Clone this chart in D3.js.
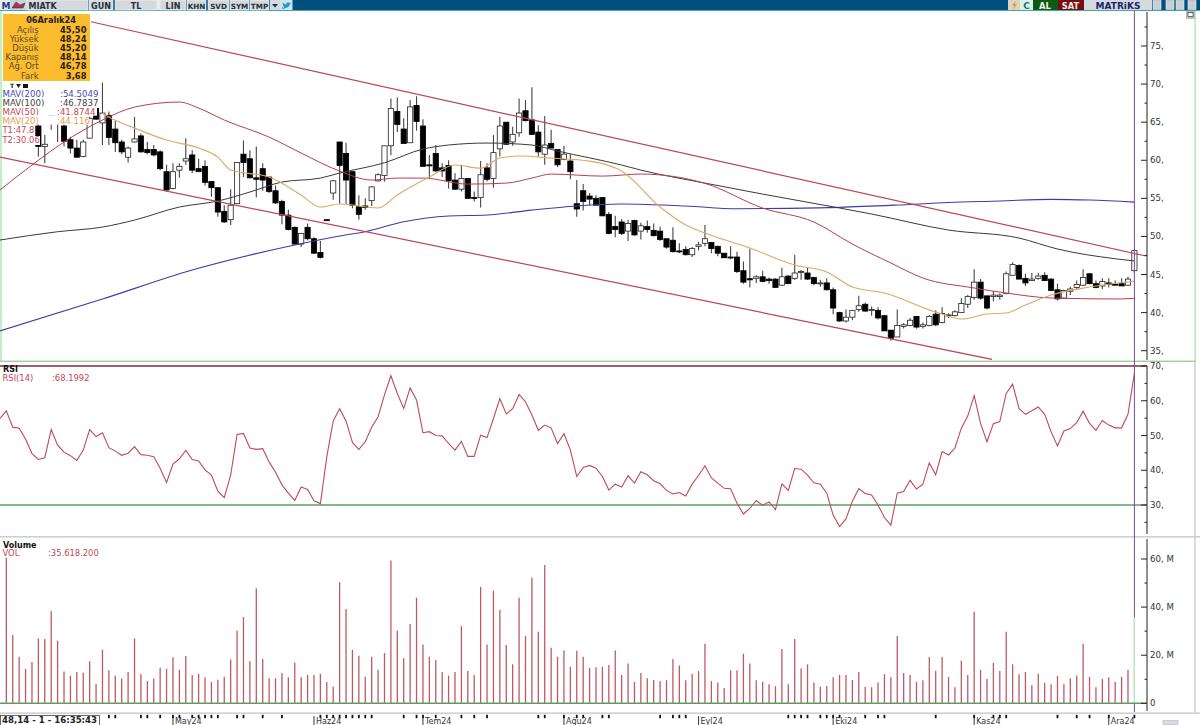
<!DOCTYPE html>
<html><head><meta charset="utf-8">
<style>html,body{margin:0;padding:0;background:#fff;overflow:hidden}svg{display:block}text{font-family:"DejaVu Sans",sans-serif}</style>
<script src="https://cdn.jsdelivr.net/npm/d3@7/dist/d3.min.js"></script>
</head><body><svg id="c" width="1200" height="725"></svg>
<script>
// ---------- candles, bar index 0..176 (first five are hidden behind the info box)
const highs=[null,null,null,null,null,65.3,63.3,66.1,65.9,64.8,
63.1,62.7,62.7,65.7,67.9,70.2,66.4,65.2,62.7,61.8,
65.7,63.5,62.4,62.0,61.3,59.4,59.6,59.6,62.9,61.3,
60.2,60.0,57.2,56.5,54.1,56.2,59.7,62.6,61.3,61.8,
59.6,57.8,56.7,54.8,53.5,51.3,50.5,51.7,49.9,49.4,
52.2,57.4,62.4,62.3,58.5,55.4,55.0,56.6,58.3,61.9,
68.1,68.25,65.5,67.9,68.4,65.4,60.7,62.0,59.6,60.0,
58.3,59.4,57.6,55.9,59.9,59.6,63.3,65.7,65.0,64.4,
68.1,67.9,69.6,64.6,65.8,64.0,61.4,61.9,60.8,57.4,
56.9,55.7,55.4,55.1,53.2,52.7,52.3,52.2,52.2,51.8,
52.1,51.7,51.3,49.7,51.2,49.1,48.7,48.6,49.3,51.5,
49.2,48.8,47.8,48.7,48.0,46.7,48.4,44.9,45.5,44.6,
44.5,45.9,44.9,47.6,45.6,45.9,44.7,44.3,44.5,43.3,
40.1,40.4,40.3,42.2,41.3,40.8,40.7,39.6,37.7,40.4,
38.6,39.3,39.5,38.7,39.7,40.3,40.7,39.9,40.3,41.9,
42.3,45.7,44.4,42.2,42.8,42.5,45.4,46.6,46.3,45.1,
45.2,45.2,45.3,44.5,43.8,43.0,43.4,44.2,45.7,45.2,
44.2,44.5,44.5,44.2,44.5,44.7,48.24];
const lows=[null,null,null,null,null,60.5,59.6,64.0,62.4,61.8,
60.9,60.4,60.4,62.9,65.3,62.0,62.0,61.1,60.8,59.7,
62.3,61.0,60.8,60.5,58.7,55.9,56.2,57.7,59.4,58.3,
58.5,56.7,55.2,52.6,51.8,51.5,54.3,57.8,57.6,55.1,
56.0,55.7,54.3,51.6,50.8,48.9,48.6,49.5,47.7,47.1,
52.1,54.8,54.3,54.3,53.7,52.2,53.5,54.0,57.2,57.2,
60.7,63.7,62.2,62.3,63.9,59.2,57.6,58.5,57.8,56.3,
56.1,55.9,55.0,54.6,53.8,57.2,56.4,60.5,62.0,61.9,
63.1,65.1,63.3,60.5,59.4,61.6,59.1,60.0,57.5,52.6,
53.4,54.1,54.1,52.7,50.3,49.9,50.2,49.4,50.1,49.6,
50.5,50.0,49.4,48.4,47.9,47.8,47.5,47.3,48.2,48.7,
47.8,47.4,47.2,47.0,45.2,43.8,43.3,43.9,44.0,43.8,
43.3,43.5,43.8,44.3,44.3,44.3,43.6,43.4,42.9,39.8,
38.8,38.7,39.0,40.1,40.1,39.6,39.1,37.6,36.3,36.8,
37.9,38.2,37.9,37.9,38.2,38.2,38.6,39.3,39.5,40.0,
40.6,41.7,41.7,40.4,41.5,41.7,42.4,44.9,44.4,43.5,
44.2,44.3,44.2,42.8,41.6,41.8,42.3,43.0,43.5,43.7,
43.2,43.1,43.3,43.5,43.5,43.5,45.2];
const opens=[null,null,null,null,null,64.5,61.8,65.9,64.8,64.5,
62.7,61.6,60.5,62.9,66.8,64.9,65.9,64.1,62.4,60.4,
62.4,63.2,61.4,61.4,61.1,58.5,56.3,58.7,59.9,60.7,
58.9,59.2,57.2,56.4,53.3,52.2,54.3,60.8,60.2,57.7,
58.9,57.8,56.0,54.6,52.8,51.2,49.0,51.2,49.7,47.9,
52.2,55.7,62.4,60.9,58.5,53.9,54.0,54.7,57.3,58.0,
61.9,66.4,64.1,62.3,67.2,64.5,59.4,60.9,59.0,59.3,
57.4,56.2,57.6,55.1,55.1,59.0,57.6,61.5,65.0,62.4,
63.6,66.5,65.3,63.7,60.8,62.2,61.4,60.1,59.9,54.3,
56.0,55.3,55.0,55.1,52.9,51.3,51.9,50.7,52.1,50.7,
51.3,50.8,50.7,49.7,49.5,48.1,48.3,47.6,48.7,49.1,
49.2,48.7,47.8,47.3,47.3,45.5,44.45,44.5,44.7,44.4,
44.4,43.6,44.8,44.5,45.3,45.2,44.6,43.8,43.9,43.0,
40.0,38.9,39.4,40.4,41.1,40.3,40.3,39.6,37.7,36.8,
38.2,38.3,39.5,38.2,38.3,39.8,38.7,39.6,39.6,40.0,
41.1,42.0,44.0,42.2,42.1,42.1,42.5,44.9,46.2,44.5,
44.2,44.5,44.9,44.4,43.0,41.9,42.8,43.3,43.6,45.1,
43.8,43.5,43.9,43.75,43.8,43.6,45.5];
const closes=[null,null,null,null,null,61.8,62.1,64.8,65.6,62.5,
61.6,60.4,62.4,65.5,65.4,66.2,63.0,62.3,61.1,61.6,
62.8,61.1,61.0,60.7,58.9,56.1,58.5,59.2,60.2,58.7,
58.5,57.1,56.4,53.2,51.9,54.1,59.7,59.7,57.7,57.5,
57.4,55.9,54.4,52.8,50.9,49.0,50.4,49.7,47.8,47.25,
52.1,57.3,59.3,57.4,54.1,52.9,53.8,56.5,58.1,61.9,
66.8,64.7,62.2,67.0,65.1,59.2,59.3,58.6,58.6,57.3,
56.2,57.6,55.0,55.0,58.1,57.5,61.0,64.5,62.1,63.4,
66.2,65.2,63.4,61.1,62.0,61.6,59.4,60.8,58.5,53.6,
54.6,54.9,54.1,52.7,50.4,50.9,50.4,51.7,50.2,51.4,
50.9,50.1,49.6,48.6,48.0,48.0,47.6,48.4,48.9,49.7,
48.4,47.8,47.2,47.2,45.4,44.0,44.3,44.7,44.1,44.2,
43.3,44.7,43.8,45.2,45.4,44.4,43.8,43.9,43.0,40.6,
38.9,39.4,40.3,40.9,40.2,40.4,39.3,37.6,36.6,38.3,
38.4,39.0,38.1,38.4,39.5,38.4,39.9,39.7,40.1,41.2,
42.1,44.0,41.9,40.6,42.3,42.3,45.1,46.3,44.4,43.9,
44.4,44.8,44.2,42.9,41.8,42.9,43.1,43.7,44.6,43.8,
43.3,44.1,43.7,43.6,43.5,44.4,48.14];
// ---------- moving averages and channels, read at knots [bar index], [price]
const ma200Idx=[-1,15,29,45,52,56,62,69,75,82,89,96,106,114,122,130,139,147,155,163,169,176];
const ma200Val=[37.59,41.78,45.59,48.87,50.05,50.62,51.93,52.68,52.81,53.46,53.99,54.25,53.99,53.63,53.69,53.82,54.12,54.45,54.65,54.87,54.78,54.51];
const ma100Idx=[-1,8,15,20,27,33,38,43,49,52,59,65,69,75,82,86,96,99,109,118,130,135,147,158,164,173,176];
const ma100Val=[49.53,50.62,51.23,52.15,53.86,54.65,55.83,57.14,57.66,58.32,59.67,61.47,62.0,62.26,62.0,61.21,59.37,58.71,57.0,55.56,53.73,52.94,50.84,49.79,48.35,47.07,46.78];
const ma50Idx=[-1,4,9,15,20,27,30,34,41,46,52,57,61,65,72,78,82,85,93,99,109,118,126,132,138,143,151,156,163,173,176];
const ma50Val=[56.09,59.37,62.39,65.28,66.98,67.64,66.85,65.28,63.04,60.95,58.58,57.4,57.66,57.66,56.87,57.0,57.66,58.19,57.92,58.19,56.97,53.73,51.89,49.0,46.51,44.54,43.23,42.57,41.92,41.79,41.87];
const ma20Idx=[15,16,20,25,30,33,35,41,46,49,52,58,61,66,70,74,77,80,85,91,96,102,106,109,116,123,128,132,137,145,149,153,156,159,163,169,176];
const ma20Val=[66.19,65.67,64.22,62.65,61.6,60.42,58.71,57.79,55.43,53.86,54.25,53.73,55.43,57.79,59.37,58.97,60.29,60.55,60.29,59.89,58.58,53.86,51.5,50.45,48.48,46.25,45.33,43.36,42.57,40.08,39.16,39.82,39.95,41.0,42.31,43.36,44.12];
const upperIdx=[13.2,177.8], upperVal=[78.18,47.43];
const lowerIdx=[-1,153.8], lowerVal=[60.42,33.85];
// ---------- RSI(14), bar index -1..176
const rsi=[54.9,57.1,52.4,52.1,49.0,44.8,43.1,43.6,51.7,47.2,45.2,44.2,42.8,45.8,51.7,49.7,50.8,46.5,45.5,44.3,44.9,46.8,44.5,44.3,43.9,40.6,36.5,41.8,43.3,45.7,43.1,42.7,40.1,38.6,34.0,32.1,38.6,50.3,50.6,46.4,46.0,46.2,42.4,39.4,35.8,33.4,31.3,35.2,34.5,31.2,30.4,43.9,54.2,57.7,54.2,48.0,46.0,48.2,52.4,55.4,61.7,67.2,62.1,
57.8,63.7,60.2,50.8,51.1,50.0,49.9,47.7,45.8,48.3,44.0,44.0,50.1,49.4,54.9,60.6,56.2,57.7,61.8,59.7,55.9,51.5,53.0,52.2,47.7,50.5,45.8,38.2,40.8,41.4,40.6,38.2,34.3,36.0,35.2,38.4,36.3,39.6,38.7,37.0,36.1,34.2,33.2,33.6,32.6,36.0,38.5,41.3,37.8,36.3,34.8,34.7,30.5,27.4,29.0,31.3,29.9,30.9,28.7,36.1,34.2,40.5,
40.3,38.6,36.4,36.0,33.4,27.1,23.8,26.0,31.1,34.7,33.3,32.9,30.0,26.4,24.2,33.4,33.9,37.1,34.6,36.0,42.1,38.7,45.4,44.4,46.4,52.1,55.6,61.5,53.5,48.2,53.4,54.0,62.1,64.8,57.8,56.1,57.1,58.2,56.1,51.1,47.0,51.3,52.0,53.7,57.0,53.5,51.5,54.3,53.0,52.2,52.2,56.1,67.9];
// ---------- volume in millions, bar index 0..176
const volume=[60.5,28.4,19.4,14.3,17.2,27,26.7,38.4,26,13.2,11.5,13,12.7,17.5,8,22.3,13.7,11.5,10.3,13,27,12.2,9.3,10.3,14.8,14.3,19.1,14,19.7,11.8,12.3,10.8,8.9,9.8,11,18.2,30.2,35.9,17.5,47.8,18.4,10.4,10.4,12.6,10.8,16.9,10.8,11.8,11.8,12.3,8.9,6.9,50.3,39.2,22.3,19.8,11,19.4,14,20.9,59.4,30.2,
18.7,33,43.9,24.5,19.4,18,13,11.5,13,32.1,13.4,11.8,48.4,24.5,46.8,38.8,24.2,16.2,43.9,28,52.2,29.7,57.5,23.1,19.4,22,15.2,21.8,19.4,14.7,15,15.2,15.9,22,11.8,16.5,8.9,12.6,10.4,9.7,9.3,9.6,18.4,15.7,9.6,12.2,13.4,24.8,9.3,8.6,6.4,13.7,13.7,20.6,16.5,9.6,8.9,7.9,7.1,22.6,7.9,26.7,
14.6,16.2,8.6,6.9,7.2,10.8,11.8,11.8,9.7,13,6.9,6.7,8.6,12.1,10.8,28,12.6,11.8,8.9,9.6,19.3,13.4,19.3,11,6.7,17.7,11.8,38.1,13.9,10.1,16.8,13.4,29.7,16.2,12.1,13,7.6,12.3,8.5,7.9,11.4,7.9,10.4,11.6,24.8,11,6.7,10.1,10.8,8.9,11,14,35.7];
// ---------- axes and time row
const priceTicks=[75,70,65,60,55,50,45,40,35];
const priceMinor=[77.5,72.5,67.5,62.5,57.5,52.5,47.5,42.5,37.5];
const rsiTicks=[70,60,50,40,30];
const rsiMinor=[65,55,45,35,25];
const volTicks=[60,40,20,0];
const volMinor=[50,30,10];
const dateTicks=[16,17,21,22,24,26,27,29,30,31,32,33,36,37,40,43,49,50,51,52,53,54,55,56,57,62,64,65,67,71,73,75,83,84,87,89,90,93,94,102,104,105,106,122,123,124,125,127,128,129,130,134,136,137,145,151,154,155,156,164,167,169,172,176];
const monthIdx=[26,48,65,87,108,129,151,172];
const monthNames=["May24","Haz24","Tem24","Ağu24","Eyl24","Eki24","Kas24","Ara24"];
// ---------- text panels
const infoDate="06Aralık24";
const infoLabels=["Açılış","Yüksek","Düşük","Kapanış","Ağ. Ort","Fark"];
const infoValues=["45,50","48,24","45,20","48,14","46,78","3,68"];
const legendNames=["MAV(200)","MAV(100)","MAV(50)","MAV(20)"];
const legendValues=[":54.5049",":46.7837",":41.8744",":44.116"];
const toolNames=["MIATK","GUN","TL","LIN","KHN","SVD","SYM","TMP"];

const svg=d3.select("#c");
const x=d3.scaleLinear().domain([0,176]).range([6.33,1134.4]);
const yP=d3.scaleLinear().domain([35,75]).range([350.7,46]);
const yR=d3.scaleLinear().domain([30,70]).range([505,366]);
const yV=d3.scaleLinear().domain([0,60]).range([703.3,559]);
const AX=1147;
const colRed="#b9475a",colMA50="#b5404f",colMA100="#3a3a3a",colMA200="#3d3da8",colMA20="#dda76a",colGreen="#5c9e66",purple="#7a4a94";

svg.append("defs").append("clipPath").attr("id","pc").append("rect").attr("x",0).attr("y",11).attr("width",1147).attr("height",349);
// frames
svg.append("rect").attr("x",0).attr("y",11).attr("width",2).attr("height",350).attr("fill","#c4efc6");
svg.append("rect").attr("x",1194.5).attr("y",11).attr("width",1.2).attr("height",350).attr("fill","#a6dfa8");
svg.append("rect").attr("x",1194.2).attr("y",361).attr("width",1.5).attr("height",352).attr("fill","#cfcfcf");
svg.append("rect").attr("x",0).attr("y",360.6).attr("width",1196).attr("height",1.4).attr("fill","#9ad09c");
svg.append("rect").attr("x",0).attr("y",536).attr("width",1200).attr("height",1.6).attr("fill","#cfcfcf");
svg.append("rect").attr("x",0).attr("y",712.4).attr("width",1200).attr("height",1.6).attr("fill","#cfcfcf");

// price panel
const gP=svg.append("g").attr("clip-path","url(#pc)");
const knots=(xs,ys)=>xs.map((d,i)=>[x(d),yP(ys[i])]);
const smooth=d3.line().curve(d3.curveMonotoneX);
const straight=d3.line();
const indices=d3.range(5,177);
const candle=gP.selectAll("g.cd").data(indices).join("g").attr("class","cd");
candle.append("line").attr("x1",i=>x(i)).attr("x2",i=>x(i)).attr("y1",i=>yP(highs[i])).attr("y2",i=>yP(lows[i])).attr("stroke","#444").attr("stroke-width",1.1);
candle.append("rect").attr("x",i=>x(i)-2.6).attr("width",5.2)
 .attr("y",i=>yP(Math.max(opens[i],closes[i])))
 .attr("height",i=>Math.max(1,Math.abs(yP(opens[i])-yP(closes[i]))))
 .attr("fill",i=>closes[i]>=opens[i]?"#fff":"#000").attr("stroke",i=>closes[i]>=opens[i]?"#222":"#000").attr("stroke-width",.8);
gP.append("path").attr("d",smooth(knots(ma200Idx,ma200Val))).attr("fill","none").attr("stroke",colMA200).attr("stroke-width",1.1);
gP.append("path").attr("d",smooth(knots(ma100Idx,ma100Val))).attr("fill","none").attr("stroke",colMA100).attr("stroke-width",1);
gP.append("path").attr("d",smooth(knots(ma50Idx,ma50Val))).attr("fill","none").attr("stroke",colMA50).attr("stroke-width",1);
gP.append("path").attr("d",smooth(knots(ma20Idx,ma20Val))).attr("fill","none").attr("stroke",colMA20).attr("stroke-width",1.1);
gP.append("path").attr("d",straight(knots(upperIdx,upperVal))).attr("fill","none").attr("stroke",colRed).attr("stroke-width",1.2);
gP.append("path").attr("d",straight(knots(lowerIdx,lowerVal))).attr("fill","none").attr("stroke",colRed).attr("stroke-width",1.2);

// RSI panel
svg.append("line").attr("x1",0).attr("x2",AX).attr("y1",yR(70)).attr("y2",yR(70)).attr("stroke","#7b2d35").attr("stroke-width",1.3);
svg.append("line").attr("x1",0).attr("x2",AX).attr("y1",yR(30)).attr("y2",yR(30)).attr("stroke",colGreen).attr("stroke-width",1.3);
svg.append("path").attr("d",d3.line().x((d,i)=>x(i-1)).y(d=>yR(d))(rsi)).attr("fill","none").attr("stroke","#c04a5c").attr("stroke-width",1.1);

// crosshair
svg.append("line").attr("x1",x(176)).attr("x2",x(176)).attr("y1",11).attr("y2",712).attr("stroke",purple).attr("stroke-width",1);

// Volume panel
svg.selectAll("line.v").data(volume).join("line").attr("class","v")
 .attr("x1",(d,i)=>x(i)).attr("x2",(d,i)=>x(i)).attr("y1",yV(0)).attr("y2",d=>yV(d))
 .attr("stroke",(d,i)=>i===176?"#bfeab8":"#bd5a66").attr("stroke-width",1.3);
svg.append("line").attr("x1",0).attr("x2",AX).attr("y1",yV(0)).attr("y2",yV(0)).attr("stroke",colGreen).attr("stroke-width",1.4);

// axes
function axis(y0,y1,scale,major,minor,fmt){
  const g=svg.append("g").attr("stroke","#222");
  g.append("line").attr("x1",AX).attr("x2",AX).attr("y1",y0).attr("y2",y1).attr("stroke-width",1);
  g.selectAll("line.mj").data(major).join("line").attr("class","mj").attr("x1",AX-6).attr("x2",AX).attr("y1",d=>scale(d)).attr("y2",d=>scale(d)).attr("stroke-width",1);
  g.selectAll("line.mn").data(minor).join("line").attr("class","mn").attr("x1",AX-2.5).attr("x2",AX).attr("y1",d=>scale(d)).attr("y2",d=>scale(d)).attr("stroke-width",1);
  svg.append("g").selectAll("text").data(major).join("text").attr("x",AX+3).attr("y",d=>scale(d)+3).text(fmt).attr("font-size",8.6).attr("fill","#333");
}
axis(12,360,yP,priceTicks,priceMinor,d=>d+",");
axis(366,534,yR,rsiTicks,rsiMinor,d=>d+",");
axis(539,711,yV,volTicks,volMinor,d=>d===0?"0":d+", M");

// panel captions
svg.append("text").attr("x",3).attr("y",372).text("RSI").attr("font-size",8).attr("font-weight","bold").attr("fill","#111");
svg.append("text").attr("x",2.5).attr("y",381).text("RSI(14)").attr("font-size",8.4).attr("fill","#c0485a");
svg.append("text").attr("x",52).attr("y",381).text(":68.1992").attr("font-size",8.4).attr("fill","#c0485a");
svg.append("text").attr("x",3).attr("y",548).text("Volume").attr("font-size",8).attr("font-weight","bold").attr("fill","#111");
svg.append("text").attr("x",2.5).attr("y",556).text("VOL").attr("font-size",8.4).attr("fill","#c0485a");
svg.append("text").attr("x",48).attr("y",556).text(":35.618.200").attr("font-size",8.4).attr("fill","#c0485a");

// legend over the price panel (opaque text background)
const legendRows=[94,103,112,121];
const legendCols=["#4a4ab0","#444","#c8485a","#e4a050"];
const lg=svg.append("g");
legendNames.forEach((n,i)=>{
  lg.append("rect").attr("x",2).attr("y",legendRows[i]-5.5).attr("width",i===3?87:95).attr("height",9.2).attr("fill","#fff");
  lg.append("text").attr("x",2.5).attr("y",legendRows[i]+3).text(n).attr("font-size",8.6).attr("fill",legendCols[i]);
  lg.append("text").attr("x",[60,60,57,57][i]).attr("y",legendRows[i]+3).text(legendValues[i]).attr("font-size",8.6).attr("fill",legendCols[i]);
});
[["T1:47.8",133,35],["T2:30.06",143,40]].forEach(r=>{
  lg.append("rect").attr("x",2).attr("y",r[1]-7).attr("width",r[2]-2).attr("height",9).attr("fill","#fff");
  lg.append("text").attr("x",2.5).attr("y",r[1]).text(r[0]).attr("font-size",8.4).attr("fill","#c8485a");
});
lg.append("text").attr("x",10).attr("y",88).text("T").attr("font-size",6).attr("font-weight","bold").attr("fill","#222");
lg.append("path").attr("d","M16 84h5l-2.5 4z").attr("fill","#222");
lg.append("rect").attr("x",23).attr("y",84).attr("width",5).attr("height",4).attr("fill","#111");

// info box
svg.append("rect").attr("x",3).attr("y",14).attr("width",87).attr("height",67).attr("fill","#fbbc2d");
svg.append("text").attr("x",51).attr("y",23).attr("text-anchor","middle").text(infoDate).attr("font-size",8.2).attr("font-weight","bold").attr("fill","#222");
const infoY=[32.5,41.5,51,60,69,78.5];
infoLabels.forEach((n,i)=>{
  svg.append("text").attr("x",38.5).attr("y",infoY[i]).attr("text-anchor","end").text(n).attr("font-size",8.4).attr("fill","#5a4a2a");
  svg.append("text").attr("x",86.5).attr("y",infoY[i]).attr("text-anchor","end").text(infoValues[i]).attr("font-size",8.4).attr("font-weight","bold").attr("fill","#2a2210");
});

// toolbar
svg.append("rect").attr("x",0).attr("y",0).attr("width",1200).attr("height",10).attr("fill","#014f7e");
svg.append("rect").attr("x",0).attr("y",10).attr("width",1200).attr("height",1).attr("fill","#43a9a0");
svg.append("rect").attr("x",0).attr("y",0).attr("width",10).attr("height",10).attr("fill","#e6edf4");
svg.append("text").attr("x",1.5).attr("y",9).text("M").attr("font-size",9).attr("font-weight","bold").attr("fill","#1c3f86");
svg.append("rect").attr("x",10).attr("y",0).attr("width",17).attr("height",10).attr("fill","#c9d2da");
svg.append("path").attr("d","M12 8l4-6 4 3 5-2-2 5z").attr("fill","#b3303c").attr("stroke","#223a6e").attr("stroke-width",.6);
const toolX=[27,89,115,160,187,208,230,250], toolW=[61,24,42,26,19,21,19,19], toolF=[8,8,8,8,7.2,7.2,7.2,7.2];
toolNames.forEach((n,i)=>{
  svg.append("rect").attr("x",toolX[i]).attr("y",0).attr("width",toolW[i]).attr("height",10).attr("fill","#d5d8dc").attr("stroke","#fff").attr("stroke-width",.5);
  svg.append("text").attr("x",i===0?28.5:toolX[i]+toolW[i]/2).attr("y",8.5).attr("text-anchor",i===0?"start":"middle").text(n).attr("font-size",toolF[i]).attr("font-weight","bold").attr("fill","#27303a");
});
svg.append("rect").attr("x",157).attr("y",0).attr("width",3).attr("height",10).attr("fill","#e8eaec");
svg.append("rect").attr("x",270).attr("y",0).attr("width",10).attr("height",10).attr("fill","#d5d8dc");
svg.append("path").attr("d","M272 4h6l-3 3.5z").attr("fill","#14305c");
svg.append("rect").attr("x",280).attr("y",0).attr("width",12.5).attr("height",10).attr("fill","#cfe4ee");
svg.append("path").attr("d","M282 7c3 2 7 1 8-3l1.5-1.5-2 .4c-1-1.4-3.5-.6-3 1.4-1.5 0-2.6-.6-3.5-1.8-.5 1 0 2 .8 2.8l-.8-.2c0 1 .6 1.6 1.6 2l-.8.1c.3.6.8.9 1.4 1-1 .6-1.8.8-2.7.8z").attr("fill","#1f9ad6");
svg.append("rect").attr("x",1008).attr("y",0).attr("width",12).attr("height",10).attr("fill","#d9d4c4");
svg.append("path").attr("d","M1015.5 1l-3.5 4.5h2.3l-1.3 4 4-5.2h-2.3z").attr("fill","#e69a1a");
svg.append("rect").attr("x",1020).attr("y",0).attr("width",13).attr("height",10).attr("fill","#dff0ea");
svg.append("text").attr("x",1026.5).attr("y",9).attr("text-anchor","middle").text("C").attr("font-size",9).attr("font-weight","bold").attr("fill","#0f7a6a");
svg.append("rect").attr("x",1033).attr("y",0).attr("width",25).attr("height",10).attr("fill","#0d5a12");
svg.append("text").attr("x",1045).attr("y",8.6).attr("text-anchor","middle").text("AL").attr("font-size",8.4).attr("font-weight","bold").attr("fill","#f2f2e6");
svg.append("rect").attr("x",1058).attr("y",0).attr("width",26).attr("height",10).attr("fill","#740c10");
svg.append("text").attr("x",1070.5).attr("y",8.6).attr("text-anchor","middle").text("SAT").attr("font-size",8.4).attr("font-weight","bold").attr("fill","#f5e8e8");
svg.append("rect").attr("x",1084).attr("y",0).attr("width",68).attr("height",10).attr("fill","#d5d9e0");
svg.append("text").attr("x",1118).attr("y",8.8).attr("text-anchor","middle").text("MATRiKS").attr("font-size",9).attr("font-weight","bold").attr("fill","#1f1f6e");
const winBtn=[1153,1166,1176,1188];
svg.selectAll("rect.w").data(winBtn).join("rect").attr("class","w").attr("x",d=>d).attr("y",.5).attr("width",8).attr("height",9).attr("fill","#c9ced4").attr("stroke","#eef0f2").attr("stroke-width",.6);
svg.append("rect").attr("x",1186).attr("y",11).attr("width",9).attr("height",8).attr("fill","#bdbdbd");
svg.append("rect").attr("x",1188).attr("y",12.5).attr("width",5).attr("height",4).attr("fill","#fff").attr("stroke","#222").attr("stroke-width",.6);

// time row
svg.selectAll("rect.dt").data(dateTicks).join("rect").attr("class","dt").attr("x",d=>x(d)-.9).attr("y",714.8).attr("width",1.8).attr("height",3.4).attr("fill","#111");
svg.selectAll("line.mt").data(monthIdx).join("line").attr("class","mt").attr("x1",d=>x(d)).attr("x2",d=>x(d)).attr("y1",716).attr("y2",725).attr("stroke","#222").attr("stroke-width",.9);
svg.selectAll("text.mt").data(monthIdx).join("text").attr("class","mt").attr("x",d=>x(d)+2).attr("y",724).text((d,i)=>monthNames[i]).attr("font-size",8).attr("fill","#333");
svg.append("rect").attr("x",.5).attr("y",715.5).attr("width",99).attr("height",10).attr("fill","#fff").attr("stroke","#444").attr("stroke-width",.8);
svg.append("text").attr("x",2).attr("y",723.2).text("48,14 - 1 - 16:35:43").attr("font-size",8.6).attr("font-weight","bold").attr("fill","#222");
svg.append("rect").attr("x",1163).attr("y",720.5).attr("width",15).attr("height",4).attr("fill","#d5dde4").attr("stroke","#aab").attr("stroke-width",.5);
</script></body></html>
